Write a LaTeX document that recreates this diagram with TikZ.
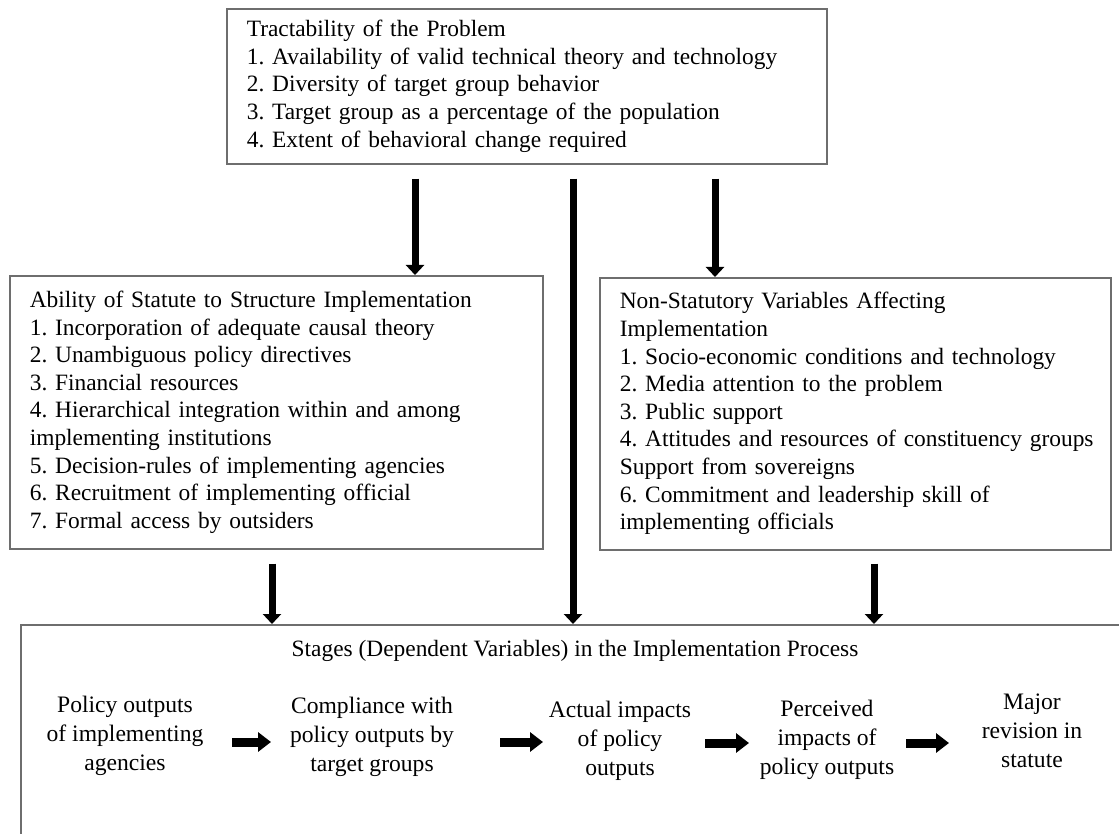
\documentclass[tikz,border=0pt]{standalone}
\usepackage{fontspec}
\setmainfont{Liberation Serif}
\usetikzlibrary{arrows.meta}
\definecolor{boxgray}{RGB}{110,110,110}
\newcommand\dfont{\fontsize{23.4}{27.6}\selectfont}
\newcommand\sfontx{\fontsize{23.6}{28.8}\selectfont}
\frenchspacing
\begin{document}
\begin{tikzpicture}[x=1pt,y=-1pt,
  box/.style={draw=boxgray, line width=1.6pt, anchor=north west,
    inner xsep=20pt, inner ysep=0pt, align=left, font=\dfont},
  stagebox/.style={draw=boxgray, line width=1.6pt, anchor=north west,
    inner sep=0pt},
  stagetext/.style={align=center, font=\sfontx, inner sep=0pt},
  varrow/.style={line width=7pt, -{Triangle[length=10pt,width=18pt]}},
  harrow/.style={line width=9pt, -{Triangle[length=13pt,width=19pt]}}]
\useasboundingbox (0,0) rectangle (1119,834);

% boxes
\node[box, text width=560pt, minimum height=155pt] (tbox) at (226,8)
 {\begin{tabular}{@{}l@{}}
 Tractability of the Problem\\
 1. Availability of valid technical theory and technology\\
 2. Diversity of target group behavior\\
 3. Target group as a percentage of the population\\
 4. Extent of behavioral change required
 \end{tabular}};

\node[box, text width=493pt, minimum height=273pt] (lbox) at (9,275)
 {\begin{tabular}{@{}l@{}}
 Ability of Statute to Structure Implementation\\
 1. Incorporation of adequate causal theory\\
 2. Unambiguous policy directives\\
 3. Financial resources\\
 4. Hierarchical integration within and among\\
 implementing institutions\\
 5. Decision-rules of implementing agencies\\
 6. Recruitment of implementing official\\
 7. Formal access by outsiders
 \end{tabular}};

\node[box, text width=471pt, minimum height=272pt] (rbox) at (599,277)
 {\begin{tabular}{@{}l@{}}
 Non-Statutory Variables Affecting\\
 Implementation\\
 1. Socio-economic conditions and technology\\
 2. Media attention to the problem\\
 3. Public support\\
 4. Attitudes and resources of constituency groups\\
 Support from sovereigns\\
 6. Commitment and leadership skill of\\
 implementing officials
 \end{tabular}};

\node[stagebox, minimum width=1140pt, minimum height=240pt] (sbox) at (20,624) {};

\node[font=\dfont, inner sep=0pt] (title) at (575,651)
 {Stages (Dependent Variables) in the Implementation Process};

% stages
\node[stagetext] (pol) at (125,736) {Policy outputs\\of implementing\\agencies};
\node[stagetext] (com) at (372,737) {Compliance with\\policy outputs by\\target groups};
\node[stagetext] (act) at (620,741) {Actual impacts\\of policy\\outputs};
\node[stagetext] (per) at (827,740) {Perceived\\impacts of\\policy outputs};
\node[stagetext] (maj) at (1032,731) {Major\\revision in\\statute};

% vertical connectors
\coordinate (xl) at (415,0);
\coordinate (xc) at (573,0);
\coordinate (xr) at (715,0);
\coordinate (xbl) at (272,0);
\coordinate (xbr) at (874,0);

\draw[varrow] ([yshift=-14pt]tbox.south -| xl) -- (lbox.north -| xl);
\draw[varrow] ([yshift=-14pt]tbox.south -| xc) -- (sbox.north -| xc);
\draw[varrow] ([yshift=-14pt]tbox.south -| xr) -- (rbox.north -| xr);
\draw[varrow] ([yshift=-14pt]lbox.south -| xbl) -- (sbox.north -| xbl);
\draw[varrow] ([yshift=-13pt]rbox.south -| xbr) -- (sbox.north -| xbr);

% horizontal connectors
\draw[harrow] ([shift={(107,6)}]pol.center) -- ([shift={(-101,5)}]com.center);
\draw[harrow] ([shift={(128,5)}]com.center) -- ([shift={(-77,1)}]act.center);
\draw[harrow] ([shift={(85,2)}]act.center) -- ([shift={(-78,3)}]per.center);
\draw[harrow] ([shift={(79,3)}]per.center) -- ([shift={(-83,12)}]maj.center);
\end{tikzpicture}
\end{document}
